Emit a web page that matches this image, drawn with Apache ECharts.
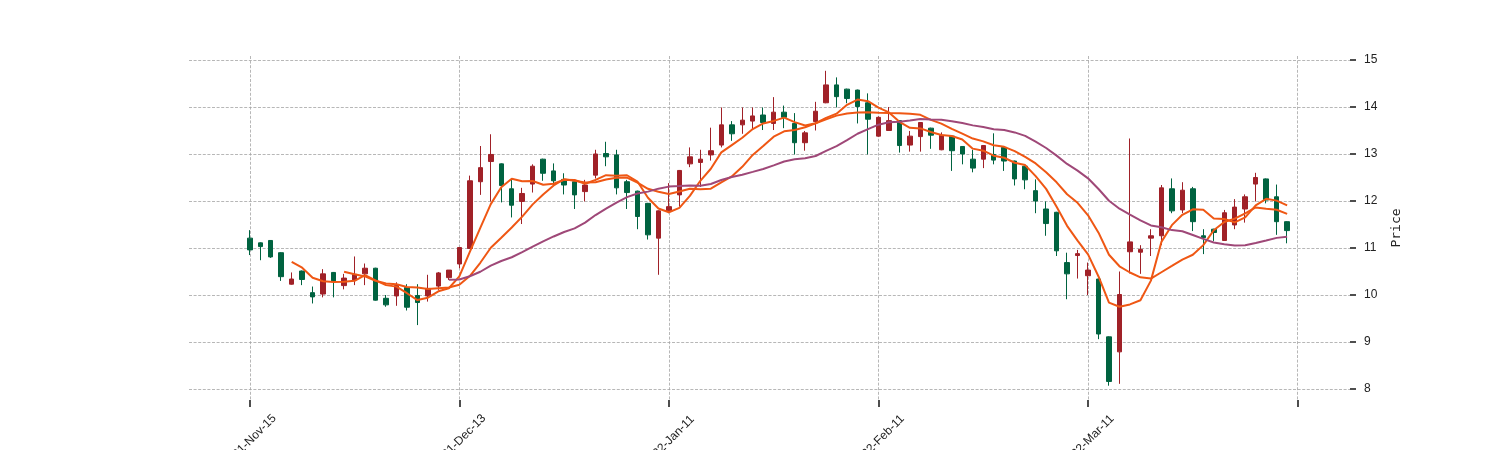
<!DOCTYPE html>
<html><head><meta charset="utf-8">
<script src="https://cdn.jsdelivr.net/npm/echarts@6/dist/echarts.min.js"></script>
<style>html,body{margin:0;padding:0;background:#fff}#c{width:1500px;height:450px}</style>
</head><body><div id="c"></div>
<script>
// x tick positions (candle index) and their date labels
const tickPositions = [0, 20, 40, 60, 80, 100];
const tickLabels = ['2021-Nov-15', '2021-Dec-13', '2022-Jan-11', '2022-Feb-11', '2022-Mar-11', ''];
const priceTicks = [8, 9, 10, 11, 12, 13, 14, 15];

const opens = [
 11.21,11.11,11.16,10.90,10.23,10.51,10.05,10.02,10.48,10.20,
 10.32,10.45,10.57,9.93,9.98,10.16,9.99,9.98,10.19,10.37,
 10.66,10.99,12.41,12.84,12.79,12.26,11.99,12.36,12.89,12.64,
 12.46,12.41,12.20,12.55,13.01,12.98,12.41,12.21,11.95,11.21,
 11.79,12.13,12.79,12.82,12.98,13.19,13.62,13.62,13.70,13.83,
 13.65,13.89,13.65,13.24,13.69,14.09,14.47,14.38,14.36,14.09,
 13.38,13.50,13.71,13.19,13.37,13.55,13.09,13.38,13.16,12.89,
 12.89,12.99,13.14,12.85,12.74,12.22,11.83,11.76,10.69,10.84,
 10.41,10.34,9.11,8.79,10.92,10.91,11.21,11.26,12.26,11.81,
 12.26,11.26,11.40,11.16,11.49,11.83,12.36,12.47,12.09,11.56
];
const highs = [
 11.38,11.12,11.17,10.91,10.48,10.52,10.18,10.55,10.49,10.45,
 10.82,10.67,10.58,10.00,10.27,10.23,10.23,10.43,10.49,10.53,
 11.01,12.54,13.17,13.42,12.80,12.47,12.28,12.78,12.90,12.80,
 12.59,12.42,12.45,13.09,13.26,13.09,12.45,12.22,11.96,11.80,
 12.38,12.66,13.14,13.09,13.56,13.99,13.70,13.99,13.99,13.99,
 14.21,14.03,13.87,13.49,14.11,14.77,14.63,14.39,14.37,14.29,
 13.80,14.00,13.72,13.49,13.68,13.56,13.46,13.39,13.17,13.09,
 13.19,13.44,13.15,12.86,12.75,12.46,11.99,11.77,10.90,10.96,
 10.69,10.35,9.12,10.50,13.33,11.06,11.40,12.34,12.48,12.40,
 12.30,11.40,11.41,11.81,12.04,12.14,12.60,12.48,12.35,11.57
];
const lows = [
 10.85,10.74,10.79,10.30,10.22,10.21,9.82,9.95,9.95,10.12,
 10.21,10.21,9.88,9.75,9.77,9.67,9.36,9.86,10.11,10.32,
 10.57,10.98,12.13,11.99,11.97,11.65,11.51,12.18,12.43,12.32,
 12.14,11.83,11.99,12.48,12.74,12.14,11.83,11.40,11.18,10.43,
 11.74,11.88,12.72,12.30,12.86,13.14,13.28,13.43,13.51,13.51,
 13.51,13.55,12.99,13.07,13.50,14.08,13.99,14.08,13.65,12.99,
 13.37,13.49,13.03,13.05,13.05,13.11,13.08,12.64,12.78,12.61,
 12.70,12.78,12.64,12.33,12.25,11.74,11.26,10.83,9.91,10.35,
 10.00,9.06,8.07,8.11,10.46,10.45,10.83,11.06,11.74,11.74,
 11.36,10.87,11.15,11.16,11.40,11.54,11.99,11.95,11.28,11.10
];
const closes = [
 10.96,11.03,10.81,10.39,10.34,10.33,9.96,10.45,10.30,10.36,
 10.44,10.57,9.89,9.79,10.20,9.74,9.84,10.14,10.47,10.53,
 11.01,12.43,12.71,12.99,12.33,11.91,12.16,12.74,12.59,12.43,
 12.34,12.13,12.34,13.00,12.94,12.28,12.18,11.67,11.28,11.79,
 11.88,12.65,12.94,12.89,13.07,13.62,13.43,13.72,13.81,13.67,
 13.89,13.78,13.24,13.45,13.91,14.47,14.22,14.18,14.01,13.74,
 13.78,13.71,13.18,13.38,13.67,13.40,13.40,13.07,13.00,12.70,
 13.18,12.87,12.85,12.47,12.45,12.00,11.52,10.94,10.45,10.88,
 10.53,9.17,8.16,10.01,11.13,10.97,11.26,12.28,11.79,12.23,
 11.56,11.22,11.33,11.75,11.87,12.09,12.50,12.02,11.56,11.37
];
const maPeriods = [5, 10, 20];
const maColors = ['#ef5714', '#ef5714', '#9f4878'];

function sma(n) {
  const out = [];
  for (let i = n - 1; i < closes.length; i++) {
    let s = 0;
    for (let k = i - n + 1; k <= i; k++) s += closes[k];
    out.push([i, s / n]);
  }
  return out;
}

const candles = opens.map((o, i) => [i, o, closes[i], lows[i], highs[i]]);

const gridLine = { show: true, lineStyle: { color: '#a5a5a5', width: 0.8, type: [3, 1.6] } };

const chart = echarts.init(document.getElementById('c'), null, { renderer: 'canvas' });
chart.setOption({
  animation: false,
  backgroundColor: '#ffffff',
  grid: { left: 189, right: 150, top: 56, bottom: 50, containLabel: false, outerBoundsMode: 'none' },
  xAxis: {
    type: 'value', min: -5.8, max: 105,
    axisLine: { show: false, onZero: false },
    axisTick: { show: true, customValues: tickPositions, length: 7, lineStyle: { color: '#222', width: 1.6 } },
    axisLabel: {
      customValues: tickPositions,
      formatter: v => { const k = tickPositions.indexOf(v); return k >= 0 ? tickLabels[k] : ''; },
      rotate: 45, align: 'center', verticalAlign: 'middle', margin: 41,
      fontFamily: 'Liberation Sans', fontSize: 12, color: '#222'
    },
    splitLine: gridLine
  },
  yAxis: {
    type: 'value', position: 'right', min: 7.766, max: 15.085, scale: true,
    name: 'Price', nameLocation: 'middle', nameRotate: 90, nameGap: 40,
    nameTextStyle: { fontFamily: 'DejaVu Sans Mono', fontSize: 13, color: '#222' },
    axisLine: { show: false, onZero: false },
    axisTick: { show: true, customValues: priceTicks, length: 6, lineStyle: { color: '#222', width: 1.6 } },
    axisLabel: { customValues: priceTicks, margin: 14, fontFamily: 'Liberation Sans', fontSize: 12, color: '#222' },
    splitLine: gridLine
  },
  series: [
    {
      type: 'candlestick',
      data: candles,
      encode: { x: 0, y: [1, 2, 3, 4] },
      barWidth: 5,
      itemStyle: { color: '#a02128', color0: '#006340', borderColor: '#a02128', borderColor0: '#006340', borderWidth: 1 },
      z: 2
    }
  ].concat(maPeriods.map((n, k) => ({
    type: 'line', name: 'MA' + n, data: sma(n), showSymbol: false, smooth: false,
    lineStyle: { color: maColors[k], width: 2 }, z: 3
  })))
});
</script></body></html>
